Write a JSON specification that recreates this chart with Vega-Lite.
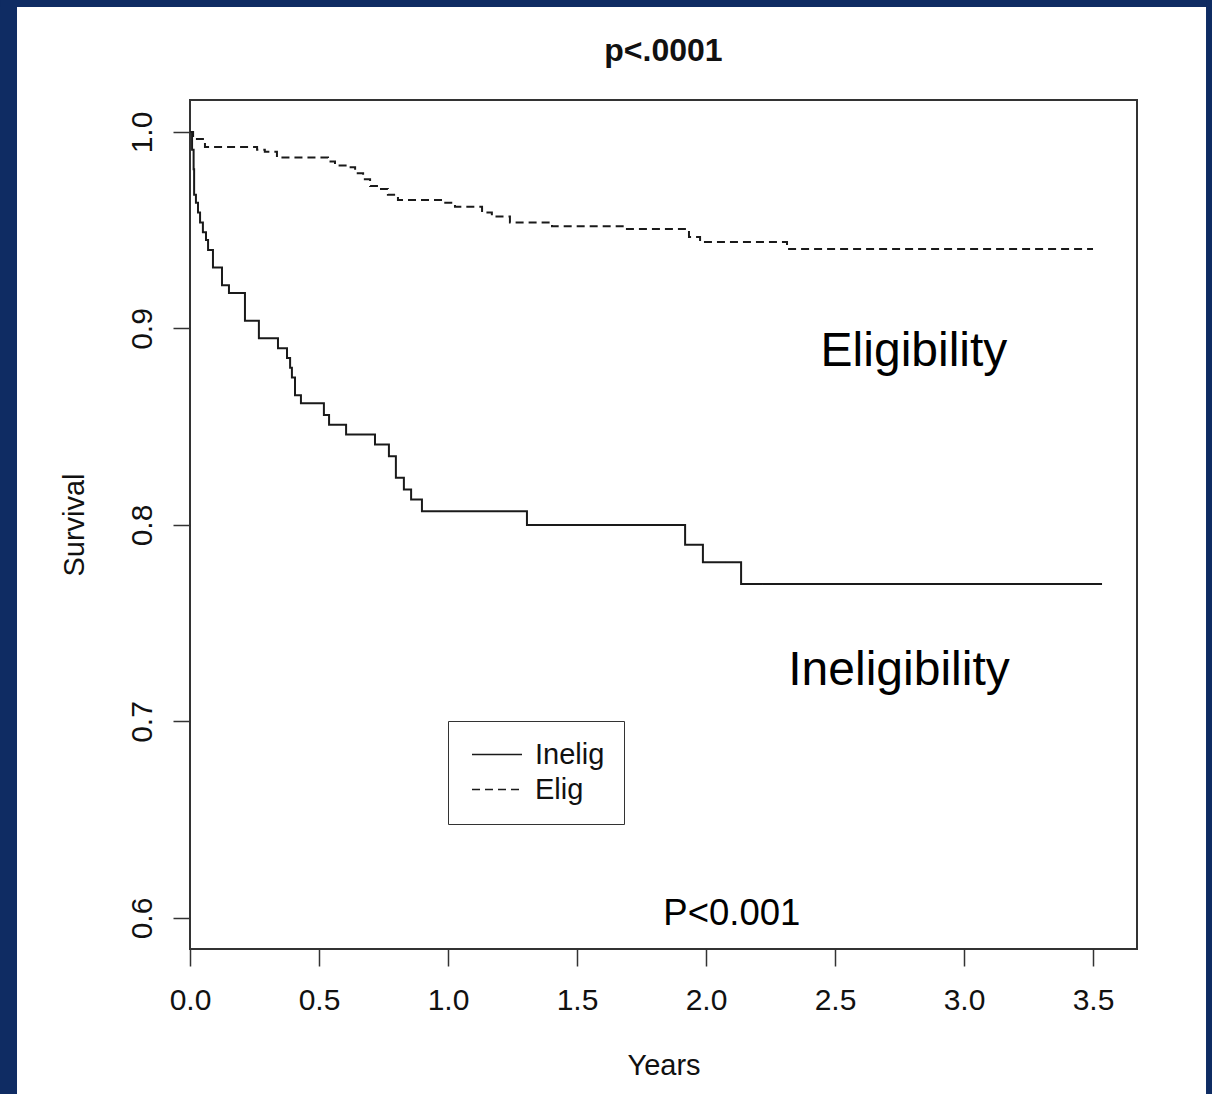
{
  "$schema": "https://vega.github.io/schema/vega-lite/v6.json",
  "width": 947,
  "height": 849,
  "autosize": {"type": "none"},
  "padding": {"left": 190, "top": 100, "right": 75, "bottom": 145},
  "background": "white",
  "config": {
    "view": {"stroke": null},
    "font": "Liberation Sans",
    "axis": {"grid": false, "domain": false, "zindex": 1, "tickColor": "#333333", "tickWidth": 1.5, "tickSize": 17, "labelFontSize": 30, "labelColor": "#111111", "labelFlush": false, "titleFontSize": 29, "titleFontWeight": "normal", "titleColor": "#111111", "labelFont": "Liberation Sans", "titleFont": "Liberation Sans"}
  },
  "layer": [
    {
      "data": {"values": [{"part": "frame-left"}]},
      "mark": {"type": "rect", "fill": "#0f2c63"},
      "encoding": {
        "x": {"datum": -0.7364, "type": "quantitative", "scale": {"domain": [0, 3.6705], "nice": false, "zero": false}},
        "x2": {"datum": -0.6705},
        "y": {"datum": 1.0672, "type": "quantitative", "scale": {"domain": [0.58422, 1.01628], "nice": false, "zero": false}},
        "y2": {"datum": 0.5104}
      }
    },
    {
      "data": {"values": [{"part": "frame-top"}]},
      "mark": {"type": "rect", "fill": "#0f2c63"},
      "encoding": {
        "x": {"datum": -0.7364, "type": "quantitative", "scale": {"domain": [0, 3.6705], "nice": false, "zero": false}},
        "x2": {"datum": 3.9612},
        "y": {"datum": 1.0672, "type": "quantitative", "scale": {"domain": [0.58422, 1.01628], "nice": false, "zero": false}},
        "y2": {"datum": 1.0636}
      }
    },
    {
      "data": {"values": [{"part": "frame-right"}]},
      "mark": {"type": "rect", "fill": "#0f2c63"},
      "encoding": {
        "x": {"datum": 3.938, "type": "quantitative", "scale": {"domain": [0, 3.6705], "nice": false, "zero": false}},
        "x2": {"datum": 3.9612},
        "y": {"datum": 1.0672, "type": "quantitative", "scale": {"domain": [0.58422, 1.01628], "nice": false, "zero": false}},
        "y2": {"datum": 0.5104}
      }
    },
    {
      "data": {"values": [{"part": "box"}]},
      "mark": {"type": "rect", "fill": "white", "fillOpacity": 0, "stroke": "#333333", "strokeWidth": 2},
      "encoding": {
        "x": {"datum": 0, "type": "quantitative", "scale": {"domain": [0, 3.6705], "nice": false, "zero": false}},
        "x2": {"datum": 3.6705},
        "y": {"datum": 0.58422, "type": "quantitative", "scale": {"domain": [0.58422, 1.01628], "nice": false, "zero": false}},
        "y2": {"datum": 1.01628}
      }
    },
    {
      "data": {"values": [
        {"group": "Inelig", "t": 0, "s": 1.0},
        {"group": "Inelig", "t": 0.008, "s": 0.991},
        {"group": "Inelig", "t": 0.014, "s": 0.981},
        {"group": "Inelig", "t": 0.016, "s": 0.968},
        {"group": "Inelig", "t": 0.023, "s": 0.964},
        {"group": "Inelig", "t": 0.031, "s": 0.959},
        {"group": "Inelig", "t": 0.039, "s": 0.954},
        {"group": "Inelig", "t": 0.050, "s": 0.949},
        {"group": "Inelig", "t": 0.062, "s": 0.945},
        {"group": "Inelig", "t": 0.070, "s": 0.940},
        {"group": "Inelig", "t": 0.089, "s": 0.931},
        {"group": "Inelig", "t": 0.124, "s": 0.922},
        {"group": "Inelig", "t": 0.151, "s": 0.918},
        {"group": "Inelig", "t": 0.213, "s": 0.904},
        {"group": "Inelig", "t": 0.267, "s": 0.895},
        {"group": "Inelig", "t": 0.341, "s": 0.890},
        {"group": "Inelig", "t": 0.376, "s": 0.885},
        {"group": "Inelig", "t": 0.388, "s": 0.880},
        {"group": "Inelig", "t": 0.395, "s": 0.875},
        {"group": "Inelig", "t": 0.407, "s": 0.866},
        {"group": "Inelig", "t": 0.430, "s": 0.862},
        {"group": "Inelig", "t": 0.519, "s": 0.856},
        {"group": "Inelig", "t": 0.539, "s": 0.851},
        {"group": "Inelig", "t": 0.605, "s": 0.846},
        {"group": "Inelig", "t": 0.717, "s": 0.841},
        {"group": "Inelig", "t": 0.771, "s": 0.835},
        {"group": "Inelig", "t": 0.798, "s": 0.824},
        {"group": "Inelig", "t": 0.829, "s": 0.818},
        {"group": "Inelig", "t": 0.857, "s": 0.813},
        {"group": "Inelig", "t": 0.899, "s": 0.807},
        {"group": "Inelig", "t": 1.306, "s": 0.800},
        {"group": "Inelig", "t": 1.919, "s": 0.790},
        {"group": "Inelig", "t": 1.988, "s": 0.781},
        {"group": "Inelig", "t": 2.136, "s": 0.770},
        {"group": "Inelig", "t": 3.535, "s": 0.770},
        {"group": "Elig", "t": 0, "s": 1.0},
        {"group": "Elig", "t": 0.012, "s": 0.9964},
        {"group": "Elig", "t": 0.058, "s": 0.9924},
        {"group": "Elig", "t": 0.26, "s": 0.991},
        {"group": "Elig", "t": 0.29, "s": 0.990},
        {"group": "Elig", "t": 0.337, "s": 0.987},
        {"group": "Elig", "t": 0.535, "s": 0.985},
        {"group": "Elig", "t": 0.562, "s": 0.983},
        {"group": "Elig", "t": 0.609, "s": 0.982},
        {"group": "Elig", "t": 0.64, "s": 0.979},
        {"group": "Elig", "t": 0.671, "s": 0.976},
        {"group": "Elig", "t": 0.698, "s": 0.9725},
        {"group": "Elig", "t": 0.736, "s": 0.971},
        {"group": "Elig", "t": 0.767, "s": 0.968},
        {"group": "Elig", "t": 0.806, "s": 0.9654},
        {"group": "Elig", "t": 0.98, "s": 0.964},
        {"group": "Elig", "t": 1.027, "s": 0.962},
        {"group": "Elig", "t": 1.132, "s": 0.959},
        {"group": "Elig", "t": 1.17, "s": 0.957},
        {"group": "Elig", "t": 1.24, "s": 0.954},
        {"group": "Elig", "t": 1.403, "s": 0.952},
        {"group": "Elig", "t": 1.686, "s": 0.9506},
        {"group": "Elig", "t": 1.934, "s": 0.9466},
        {"group": "Elig", "t": 1.977, "s": 0.944},
        {"group": "Elig", "t": 2.314, "s": 0.9405},
        {"group": "Elig", "t": 3.5, "s": 0.9405}
      ]},
      "mark": {"type": "line", "interpolate": "step-after", "color": "#1a1a1a", "strokeWidth": 2},
      "encoding": {
        "x": {"field": "t", "type": "quantitative", "scale": {"domain": [0, 3.6705], "nice": false, "zero": false},
              "axis": {"values": [0, 0.5, 1, 1.5, 2, 2.5, 3, 3.5], "format": ".1f", "title": "Years", "labelPadding": 19, "titlePadding": 36, "zindex": 1}},
        "y": {"field": "s", "type": "quantitative", "scale": {"domain": [0.58422, 1.01628], "nice": false, "zero": false},
              "axis": {"values": [0.6, 0.7, 0.8, 0.9, 1.0], "format": ".1f", "title": "Survival", "labelAngle": 270, "labelPadding": 16, "titlePadding": 38, "zindex": 1}},
        "strokeDash": {"field": "group", "type": "nominal",
              "scale": {"domain": ["Inelig", "Elig"], "range": [[1, 0], [8, 5]]},
              "legend": {"orient": "none", "legendX": 258, "legendY": 621, "title": null, "strokeColor": "#333333", "fillColor": "white", "padding": 19, "symbolType": "stroke", "symbolSize": 2500, "symbolStrokeWidth": 1.5, "symbolStrokeColor": "#1a1a1a", "symbolOffset": 4, "labelFontSize": 29, "labelFont": "Liberation Sans", "labelColor": "#111111", "labelOffset": 12, "rowPadding": 5, "clipHeight": 29, "cornerRadius": 0}},
        "detail": {"field": "group"}
      }
    },
    {
      "data": {"values": [
        {"label": "p<.0001", "t": 1.835, "s": 1.0361}
      ]},
      "mark": {"type": "text", "fontSize": 32, "fontWeight": "bold", "font": "Liberation Sans", "color": "#111111", "align": "center", "baseline": "alphabetic"},
      "encoding": {
        "x": {"field": "t", "type": "quantitative", "scale": {"domain": [0, 3.6705], "nice": false, "zero": false}},
        "y": {"field": "s", "type": "quantitative", "scale": {"domain": [0.58422, 1.01628], "nice": false, "zero": false}},
        "text": {"field": "label"}
      }
    },
    {
      "data": {"values": [
        {"label": "Eligibility", "t": 2.806, "s": 0.888},
        {"label": "Ineligibility", "t": 2.748, "s": 0.7257}
      ]},
      "mark": {"type": "text", "fontSize": 48, "font": "Liberation Sans", "color": "#000000", "align": "center", "baseline": "middle"},
      "encoding": {
        "x": {"field": "t", "type": "quantitative", "scale": {"domain": [0, 3.6705], "nice": false, "zero": false}},
        "y": {"field": "s", "type": "quantitative", "scale": {"domain": [0.58422, 1.01628], "nice": false, "zero": false}},
        "text": {"field": "label"}
      }
    },
    {
      "data": {"values": [
        {"label": "P<0.001", "t": 2.10, "s": 0.602}
      ]},
      "mark": {"type": "text", "fontSize": 36.5, "font": "Liberation Sans", "color": "#000000", "align": "center", "baseline": "middle"},
      "encoding": {
        "x": {"field": "t", "type": "quantitative", "scale": {"domain": [0, 3.6705], "nice": false, "zero": false}},
        "y": {"field": "s", "type": "quantitative", "scale": {"domain": [0.58422, 1.01628], "nice": false, "zero": false}},
        "text": {"field": "label"}
      }
    }
  ]
}
